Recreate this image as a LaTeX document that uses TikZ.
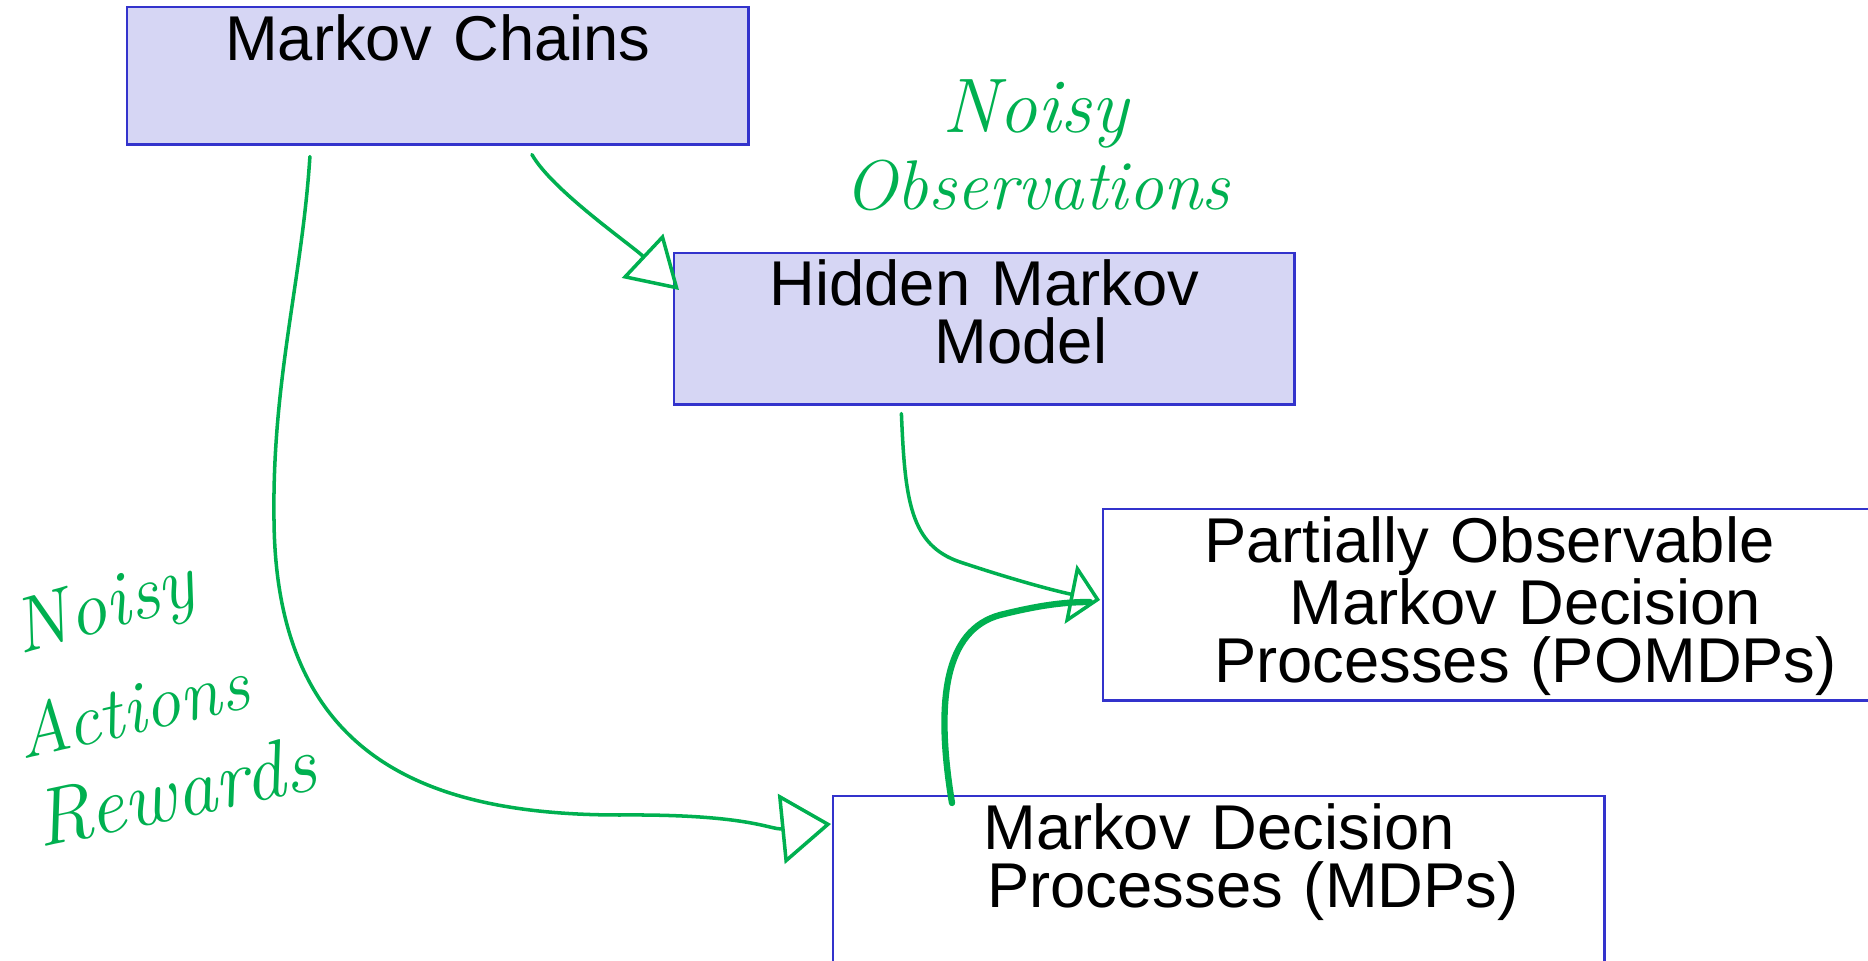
\documentclass[tikz,border=0pt]{standalone}
\usepackage{fontspec}
\setsansfont{Liberation Sans}
\usepackage{xcolor}
\usepackage{tikz}
\usetikzlibrary{arrows.meta}
\usetikzlibrary{calc}
\definecolor{mchainblue}{RGB}{51,51,204}
\definecolor{mchainfill}{RGB}{214,214,244}
\definecolor{inkgreen}{RGB}{0,176,80}
\tikzset{>=latex}
\tikzset{mchain-box/.style={draw=mchainblue, line width=0.7pt, inner sep=0, align=center, anchor=north west, font=\sffamily\fontsize{18}{16.5}\selectfont}}
\tikzset{ink-line/.style={draw=inkgreen, line width=1pt, line cap=round, line join=round}}
\tikzset{ink-note/.style={text=inkgreen, inner sep=0, anchor=base west}}

\begin{document}
\begin{tikzpicture}[x=0.01cm, y=-0.01cm]
            \useasboundingbox (0,0) rectangle (1868,961);
            \clip (0,0) rectangle (1868,961);

            \node[mchain-box, fill=mchainfill, text width=6.21cm, text height=0.53cm, text depth=0.84cm] (chains) at (126,6) {Markov Chains};
            \node[mchain-box, fill=mchainfill, text width=6.20cm, text height=0.52cm, text depth=0.99cm] (hmm) at (673,252) {Hidden Markov\\\hspace*{0.73cm}Model};
            \node[mchain-box, text width=7.72cm, text height=0.53cm, text depth=1.38cm] (pomdp) at (1102,508) {Partially Observable\\\hspace*{0.72cm}Markov Decision\\\hspace*{0.72cm}Processes (POMDPs)};
            \node[mchain-box, text width=7.71cm, text height=0.53cm, text depth=2.00cm] (mdp) at (832,795) {Markov Decision\\\hspace*{0.68cm}Processes (MDPs)};

            \node[ink-note, anchor=base, font=\itshape\fontsize{22}{22}\selectfont] (noisy-obs) at (1035,133) {Noisy};
            \node[ink-note, anchor=base, font=\itshape\fontsize{20}{22}\selectfont] (obs-note) at (1037,210) {Observations};
            \node[ink-note, rotate=16, font=\itshape\fontsize{22}{22}\selectfont] (noisy-act) at (20,655) {Noisy};
            \node[ink-note, rotate=13, font=\itshape\fontsize{21}{22}\selectfont] (act-note) at (22,760) {Actions};
            \node[ink-note, rotate=12, font=\itshape\fontsize{23}{22}\selectfont] (rew-note) at (40,848) {Rewards};

            \coordinate (chains-out1) at ($(chains.south)+(94,9)$);
            \coordinate (chains-out2) at ($(chains.south)+(-128,11)$);
            \coordinate (hmm-in) at ($(hmm.north west)+(6,38)$);
            \coordinate (hmm-out) at ($(hmm.south)+(-83,8)$);
            \coordinate (mdp-in) at ($(mdp.north west)+(-1,29)$);
            \coordinate (mdp-out) at ($(mdp.north west)+(120,8)$);
            \coordinate (pomdp-in) at ($(pomdp.north west)+(-2,92)$);
            \coordinate (pomdp-join) at ($(pomdp.north west)+(-12,94)$);

            \draw[ink-line, -{Triangle[open, length=0.5cm, width=0.6cm]}] (chains-out1) .. controls (552,190) and (630,244) .. (hmm-in);
            \draw[ink-line, -{Triangle[open, length=0.5cm, width=0.7cm]}] (chains-out2) .. controls (302,280) and (272,380) .. (274,520) .. controls (276,760) and (430,815) .. (620,815) .. controls (750,814) and (770,830) .. (mdp-in);
            \draw[ink-line, line width=1.8pt] (mdp-out) .. controls (935,700) and (945,630) .. (1000,615) .. controls (1040,605) and (1065,602) .. (pomdp-join);
            \draw[ink-line, -{Triangle[open, length=0.3cm, width=0.6cm]}] (hmm-out) .. controls (905,500) and (910,545) .. (960,562) .. controls (1020,582) and (1060,592) .. (pomdp-in);
        \end{tikzpicture}
\end{document}
